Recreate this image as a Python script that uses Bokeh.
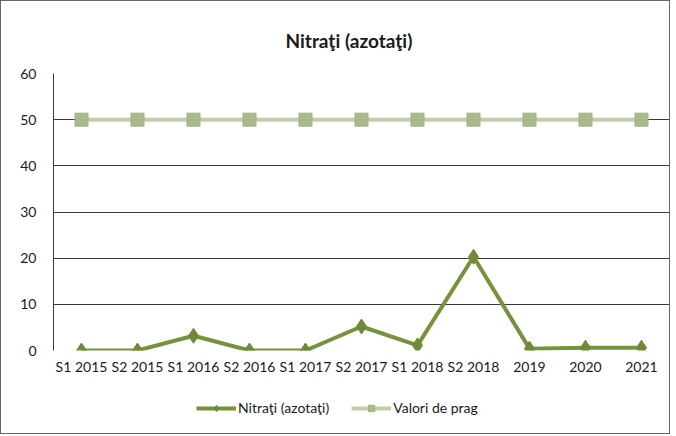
from bokeh.plotting import figure
from bokeh.layouts import column
from bokeh.models import FactorRange, Legend, LegendItem, FixedTicker, ColumnDataSource
from bokeh.embed import file_html
from bokeh.resources import INLINE

categories = ["S1 2015", "S2 2015", "S1 2016", "S2 2016", "S1 2017", "S2 2017",
              "S1 2018", "S2 2018", "2019", "2020", "2021"]
nitrati = [0.0, 0.0, 3.2, 0.0, 0.0, 5.2, 1.1, 20.3, 0.4, 0.6, 0.6]
valori_prag = [50, 50, 50, 50, 50, 50, 50, 50, 50, 50, 50]
y_ticks = [0, 10, 20, 30, 40, 50, 60]
series_names = ["Nitraţi (azotaţi)", "Valori de prag"]

FONT = "Lato"
C_N_LINE, C_N_MARK = "#76923C", "#6f8a37"
C_V_LINE, C_V_FILL, C_V_EDGE = "#C3CFA6", "#A9BA8C", "#9fb082"

p = figure(width=668, height=390, x_range=FactorRange(*categories, range_padding=0),
           y_range=(0, 60), output_backend="svg", toolbar_location=None,
           min_border_left=52, min_border_right=0, min_border_top=72,
           min_border_bottom=41)

p.title.text = "Nitraţi (azotaţi)"
p.title.align = "left"
p.title.text_font = FONT
p.title.text_font_size = "19px"
p.title.text_font_style = "bold"
p.title.text_color = "#1a1a1a"
p.title.offset = 232
p.title.standoff = 43

p.outline_line_color = None
p.background_fill_color = "white"
p.border_fill_color = "white"

p.xgrid.grid_line_color = None
p.ygrid.grid_line_color = "#3a3a3a"
p.ygrid.grid_line_width = 1
p.yaxis.ticker = FixedTicker(ticks=y_ticks)
p.yaxis.axis_line_color = "#3a3a3a"
p.yaxis.major_tick_line_color = None
p.yaxis.minor_tick_line_color = None
p.yaxis.major_label_text_font = FONT
p.yaxis.major_label_text_font_size = "14px"
p.yaxis.major_label_text_color = "#1a1a1a"
p.yaxis.major_label_standoff = 11

p.xaxis.axis_line_color = None
p.xaxis.major_tick_line_color = None
p.xaxis.minor_tick_line_color = None
p.xaxis.major_label_text_font = FONT
p.xaxis.major_label_text_font_size = "14px"
p.xaxis.major_label_text_color = "#1a1a1a"
p.xaxis.major_label_standoff = 1

src = ColumnDataSource(dict(x=categories, n=nitrati, v=valori_prag))

p.line("x", "n", source=src, line_color=C_N_LINE, line_width=4)
p.scatter("x", "n", source=src, marker="diamond", size=15,
          fill_color=C_N_MARK, line_color=C_N_MARK)
p.line("x", "v", source=src, line_color=C_V_LINE, line_width=4)
p.scatter("x", "v", source=src, marker="square", size=13,
          fill_color=C_V_FILL, line_color=C_V_EDGE)

# legend strip below the chart (its renderers use the same data, kept out of view)
lg = figure(width=668, height=42, x_range=FactorRange(*categories, range_padding=0),
            y_range=(1000, 1001), output_backend="svg", toolbar_location=None,
            min_border_left=0, min_border_right=0, min_border_top=0, min_border_bottom=0)
lg.axis.visible = False
lg.grid.grid_line_color = None
lg.outline_line_color = None
lg.border_fill_color = "white"

a1 = lg.line("x", "n", source=src, line_color=C_N_LINE, line_width=4)
b1 = lg.scatter("x", "n", source=src, marker="diamond", size=13,
                fill_color=C_N_MARK, line_color=C_N_MARK)
a2 = lg.line("x", "v", source=src, line_color=C_V_LINE, line_width=4)
b2 = lg.scatter("x", "v", source=src, marker="square", size=11,
                fill_color=C_V_FILL, line_color=C_V_EDGE)

legend = Legend(items=[LegendItem(label=series_names[0], renderers=[a1, b1]),
                       LegendItem(label=series_names[1], renderers=[a2, b2])],
                orientation="horizontal", location=(143, 17),
                label_text_font=FONT, label_text_font_size="14px",
                label_text_color="#1a1a1a", glyph_width=40, glyph_height=16,
                spacing=22, border_line_color=None, background_fill_alpha=0,
                margin=0, padding=0, label_standoff=2)
lg.add_layout(legend, "center")

layout = column(p, lg, spacing=0)
layout.styles = {"border": "1px solid #666666"}

open("out.html", "w").write(file_html(layout, INLINE))
